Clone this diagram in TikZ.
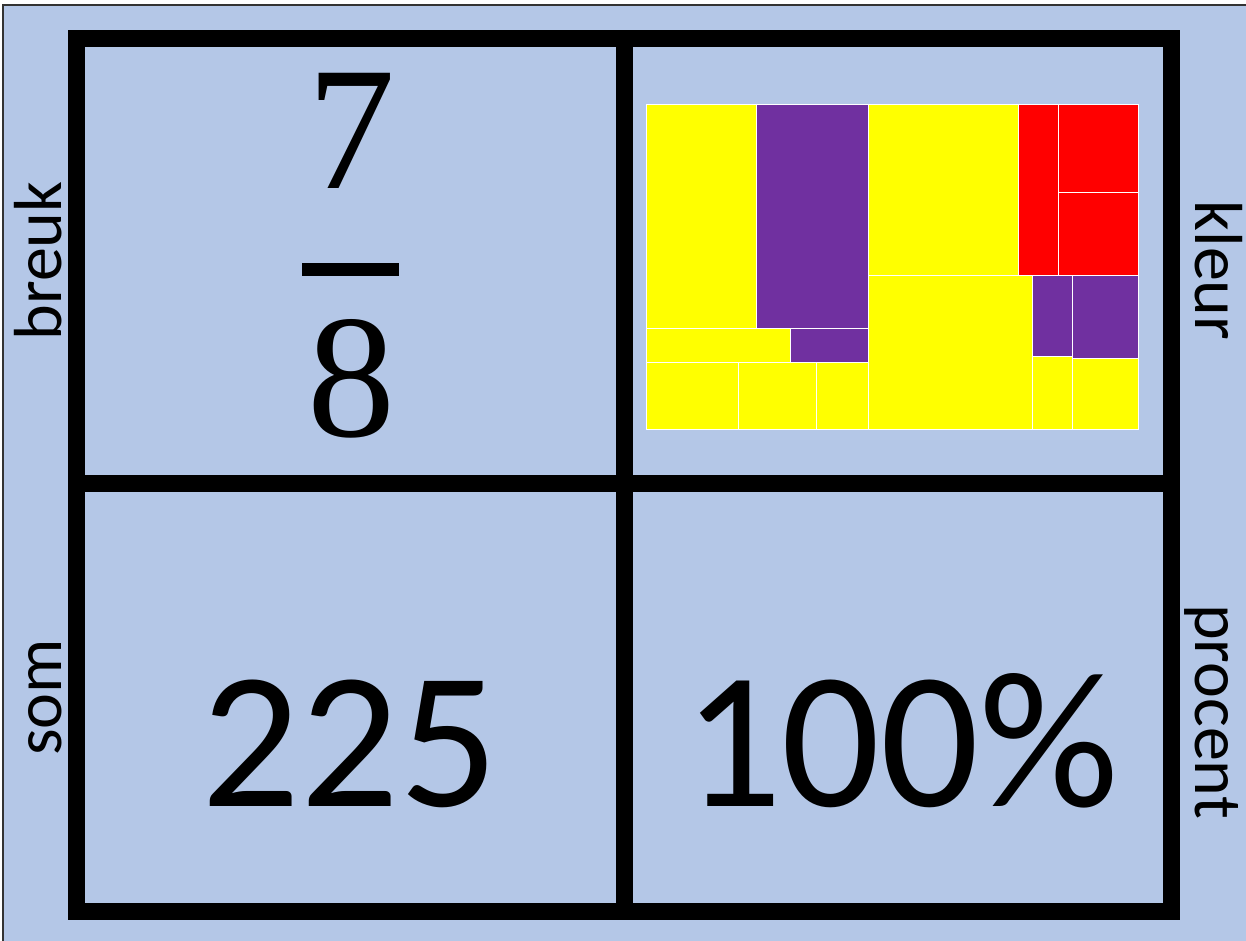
\documentclass[tikz,border=0pt]{standalone}
\usepackage{fontspec}
\setsansfont{Carlito}
\newfontfamily\fracfont{Liberation Serif}
\definecolor{bgblue}{HTML}{B4C7E7}
\definecolor{tmyellow}{HTML}{FFFF00}
\definecolor{tmpurple}{HTML}{7030A0}
\definecolor{tmred}{HTML}{FF0000}
\begin{document}
\begin{tikzpicture}[x=1pt,y=-1pt,
  cell/.style={draw=white,line width=1pt},
  ylw/.style={cell,fill=tmyellow},
  prp/.style={cell,fill=tmpurple},
  rd/.style={cell,fill=tmred},
  gridline/.style={line width=17pt,black},
  label/.style={inner sep=0pt,anchor=base,font=\sffamily\fontsize{68}{80}\selectfont},
  bignum/.style={inner sep=0pt,anchor=base,font=\sffamily\fontsize{195}{230}\selectfont},
  fracnum/.style={inner sep=0pt,anchor=base,font=\fracfont\fontsize{176}{210}\selectfont}]
\useasboundingbox (0,0) rectangle (1246,940);
% background and thin outer border
\fill[white] (0,0) rectangle (1246,940);
\fill[bgblue] (3,5) rectangle (1250,945);
\draw[black!80,line width=2pt] (3,1250) -- (3,5) -- (1250,5);
% treemap
\draw[ylw] (646,104) rectangle (756,328.5);
\draw[prp] (756,104) rectangle (868,328.5);
\draw[ylw] (646,328.5) rectangle (790.5,362);
\draw[prp] (790.5,328.5) rectangle (868,362);
\draw[ylw] (646,362) rectangle (738.5,429.5);
\draw[ylw] (738.5,362) rectangle (816.5,429.5);
\draw[ylw] (816.5,362) rectangle (868,429.5);
\draw[ylw] (868,104) rectangle (1018.5,275.5);
\draw[rd] (1018.5,104) rectangle (1058.5,275.5);
\draw[rd] (1058.5,104) rectangle (1138,192.5);
\draw[rd] (1058.5,192.5) rectangle (1138,275.5);
\draw[ylw] (868,275.5) rectangle (1032,429.5);
\draw[prp] (1032,275.5) rectangle (1072,356);
\draw[ylw] (1032,356) rectangle (1072,429.5);
\draw[prp] (1072,275.5) rectangle (1138,358.5);
\draw[ylw] (1072,358.5) rectangle (1138,429.5);
% thick grid
\draw[gridline] (76.5,38.5) rectangle (1171.5,911.5);
\draw[gridline] (624.5,38.5) -- (624.5,911.5);
\draw[gridline] (76.5,483.5) -- (1171.5,483.5);
% fraction
\node[fracnum] (seven) at (351,188) {7};
\fill (302,263) rectangle (399,275.5);
\node[fracnum] (eight) at (351,436) {8};
% numbers
\node[bignum] (som225) at (350,806) {225};
\node[bignum] (pct) at (901,806) {100\%};
% side labels
\node[label,rotate=90] (breuk) at (61,261) {breuk};
\node[label,rotate=90] (som) at (61,697.5) {som};
\node[label,rotate=-90] (kleur) at (1195,270.5) {kleur};
\node[label,rotate=-90] (procent) at (1195,711.5) {procent};
\end{tikzpicture}
\end{document}
